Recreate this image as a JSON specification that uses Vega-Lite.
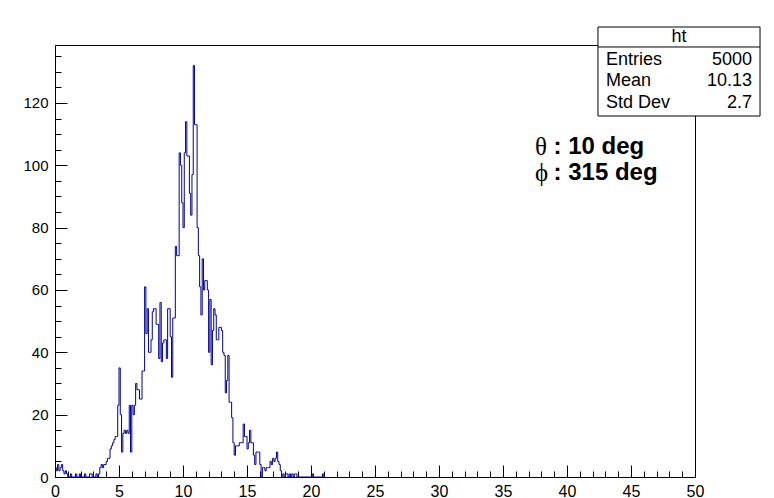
{
  "$schema": "https://vega.github.io/schema/vega-lite/v6.json",
  "width": 640,
  "height": 432,
  "autosize": {"type": "none"},
  "padding": {"left": 55, "top": 45, "right": 79, "bottom": 21},
  "background": "white",
  "config": {
    "view": {"stroke": "black", "strokeWidth": 1},
    "font": "Liberation Sans",
    "axis": {"grid": false, "domainColor": "black", "tickColor": "black", "labelColor": "black", "labelFont": "Liberation Sans", "labelFontSize": 15, "title": null}
  },
  "resolve": {"axis": {"x": "independent", "y": "independent"}},
  "datasets": {
    "h": [
      {"x":0.0,"n":3},{"x":0.1,"n":2},{"x":0.2,"n":4},{"x":0.3,"n":2},{"x":0.4,"n":3},{"x":0.5,"n":4},{"x":0.6,"n":2},{"x":0.7,"n":1},{"x":0.8,"n":2},{"x":0.9,"n":1},
      {"x":1.0,"n":0},{"x":1.1,"n":0},{"x":1.2,"n":1},{"x":1.3,"n":0},{"x":1.4,"n":0},{"x":1.5,"n":0},{"x":1.6,"n":1},{"x":1.7,"n":0},{"x":1.8,"n":0},{"x":1.9,"n":1},
      {"x":2.0,"n":0},{"x":2.1,"n":0},{"x":2.2,"n":0},{"x":2.3,"n":1},{"x":2.4,"n":0},{"x":2.5,"n":0},{"x":2.6,"n":0},{"x":2.7,"n":1},{"x":2.8,"n":1},{"x":2.9,"n":0},
      {"x":3.0,"n":0},{"x":3.1,"n":0},{"x":3.2,"n":1},{"x":3.3,"n":0},{"x":3.4,"n":1},{"x":3.5,"n":3},{"x":3.6,"n":4},{"x":3.7,"n":3},{"x":3.8,"n":4},{"x":3.9,"n":4},
      {"x":4.0,"n":5},{"x":4.1,"n":6},{"x":4.2,"n":6},{"x":4.3,"n":9},{"x":4.4,"n":10},{"x":4.5,"n":11},{"x":4.6,"n":12},{"x":4.7,"n":13},{"x":4.8,"n":13},{"x":4.9,"n":23},
      {"x":5.0,"n":35},{"x":5.1,"n":20},{"x":5.2,"n":8},{"x":5.3,"n":14},{"x":5.4,"n":15},{"x":5.5,"n":14},{"x":5.6,"n":15},{"x":5.7,"n":14},{"x":5.8,"n":23},{"x":5.9,"n":8},
      {"x":6.0,"n":23},{"x":6.1,"n":20},{"x":6.2,"n":23},{"x":6.3,"n":30},{"x":6.4,"n":28},{"x":6.5,"n":28},{"x":6.6,"n":25},{"x":6.7,"n":25},{"x":6.8,"n":34},{"x":6.9,"n":34},
      {"x":7.0,"n":61},{"x":7.1,"n":46},{"x":7.2,"n":54},{"x":7.3,"n":40},{"x":7.4,"n":40},{"x":7.5,"n":44},{"x":7.6,"n":53},{"x":7.7,"n":54},{"x":7.8,"n":54},{"x":7.9,"n":49},
      {"x":8.0,"n":49},{"x":8.1,"n":38},{"x":8.2,"n":56},{"x":8.3,"n":37},{"x":8.4,"n":43},{"x":8.5,"n":44},{"x":8.6,"n":44},{"x":8.7,"n":38},{"x":8.8,"n":54},{"x":8.9,"n":54},
      {"x":9.0,"n":45},{"x":9.1,"n":32},{"x":9.2,"n":51},{"x":9.3,"n":51},{"x":9.4,"n":74},{"x":9.5,"n":71},{"x":9.6,"n":71},{"x":9.7,"n":104},{"x":9.8,"n":100},{"x":9.9,"n":88},
      {"x":10.0,"n":80},{"x":10.1,"n":104},{"x":10.2,"n":114},{"x":10.3,"n":103},{"x":10.4,"n":103},{"x":10.5,"n":91},{"x":10.6,"n":84},{"x":10.7,"n":97},{"x":10.8,"n":132},{"x":10.9,"n":113},
      {"x":11.0,"n":113},{"x":11.1,"n":80},{"x":11.2,"n":71},{"x":11.3,"n":61},{"x":11.4,"n":52},{"x":11.5,"n":70},{"x":11.6,"n":60},{"x":11.7,"n":63},{"x":11.8,"n":63},{"x":11.9,"n":60},
      {"x":12.0,"n":40},{"x":12.1,"n":57},{"x":12.2,"n":36},{"x":12.3,"n":47},{"x":12.4,"n":54},{"x":12.5,"n":52},{"x":12.6,"n":44},{"x":12.7,"n":44},{"x":12.8,"n":48},{"x":12.9,"n":48},
      {"x":13.0,"n":47},{"x":13.1,"n":40},{"x":13.2,"n":39},{"x":13.3,"n":27},{"x":13.4,"n":31},{"x":13.5,"n":39},{"x":13.6,"n":24},{"x":13.7,"n":24},{"x":13.8,"n":19},{"x":13.9,"n":11},
      {"x":14.0,"n":7},{"x":14.1,"n":10},{"x":14.2,"n":10},{"x":14.3,"n":10},{"x":14.4,"n":11},{"x":14.5,"n":11},{"x":14.6,"n":11},{"x":14.7,"n":17},{"x":14.8,"n":13},{"x":14.9,"n":13},
      {"x":15.0,"n":9},{"x":15.1,"n":11},{"x":15.2,"n":15},{"x":15.3,"n":11},{"x":15.4,"n":11},{"x":15.5,"n":7},{"x":15.6,"n":4},{"x":15.7,"n":8},{"x":15.8,"n":8},{"x":15.9,"n":8},
      {"x":16.0,"n":4},{"x":16.1,"n":0},{"x":16.2,"n":3},{"x":16.3,"n":3},{"x":16.4,"n":2},{"x":16.5,"n":3},{"x":16.6,"n":3},{"x":16.7,"n":3},{"x":16.8,"n":5},{"x":16.9,"n":4},
      {"x":17.0,"n":6},{"x":17.1,"n":5},{"x":17.2,"n":6},{"x":17.3,"n":8},{"x":17.4,"n":5},{"x":17.5,"n":4},{"x":17.6,"n":2},{"x":17.7,"n":0},{"x":17.8,"n":1},{"x":17.9,"n":0},
      {"x":18.0,"n":1},{"x":18.1,"n":1},{"x":18.2,"n":0},{"x":18.3,"n":1},{"x":18.4,"n":0},{"x":18.5,"n":1},{"x":18.6,"n":0},{"x":18.7,"n":1},{"x":18.8,"n":1},{"x":18.9,"n":0},
      {"x":19.0,"n":0},{"x":19.1,"n":0},{"x":19.2,"n":0},{"x":19.3,"n":0},{"x":19.4,"n":0},{"x":19.5,"n":0},{"x":19.6,"n":0},{"x":19.7,"n":0},{"x":19.8,"n":0},{"x":19.9,"n":0},
      {"x":20.0,"n":0},{"x":20.1,"n":1},{"x":20.2,"n":0},{"x":20.3,"n":0},{"x":20.4,"n":0},{"x":20.5,"n":0},{"x":20.6,"n":0},{"x":20.7,"n":0},{"x":20.8,"n":0},{"x":20.9,"n":1},
      {"x":21.0,"n":0}
    ]
  },
  "layer": [
    {
      "data": {"name": "h"},
      "mark": {"type": "line", "interpolate": "step-after", "color": "#000099", "strokeWidth": 1, "clip": true},
      "encoding": {
        "x": {
          "field": "x", "type": "quantitative",
          "scale": {"domain": [0, 50], "nice": false, "zero": false},
          "axis": {
            "orient": "bottom",
            "values": [0,1,2,3,4,5,6,7,8,9,10,11,12,13,14,15,16,17,18,19,20,21,22,23,24,25,26,27,28,29,30,31,32,33,34,35,36,37,38,39,40,41,42,43,44,45,46,47,48,49,50],
            "tickSize": {"condition": {"test": "datum.value % 5 === 0", "value": -12}, "value": -6},
            "labelExpr": "datum.value % 5 === 0 ? datum.label : ''",
            "labelPadding": 18,
            "labelFontSize": 16,
            "labelOverlap": false,
            "labelFlush": false
          }
        },
        "y": {
          "field": "n", "type": "quantitative",
          "scale": {"domain": [0, 138.6], "nice": false},
          "axis": {
            "orient": "left",
            "values": [0,5,10,15,20,25,30,35,40,45,50,55,60,65,70,75,80,85,90,95,100,105,110,115,120,125,130,135],
            "tickSize": {"condition": {"test": "datum.value % 20 === 0", "value": -12}, "value": -6},
            "labelExpr": "datum.value % 20 === 0 ? datum.label : ''",
            "labelPadding": 19,
            "labelOverlap": false
          }
        }
      }
    },
    {
      "data": {"values": [{}]},
      "mark": {"type": "rect", "fill": "white", "stroke": "black", "strokeWidth": 1, "clip": false},
      "encoding": {
        "x": {"datum": 42.42, "type": "quantitative", "axis": null},
        "x2": {"datum": 55.08},
        "y": {"datum": 144.37, "type": "quantitative", "axis": null},
        "y2": {"datum": 115.82}
      }
    },
    {
      "data": {"values": [{}]},
      "mark": {"type": "rule", "stroke": "black", "strokeWidth": 1, "clip": false},
      "encoding": {
        "x": {"datum": 42.42, "type": "quantitative", "axis": null},
        "x2": {"datum": 55.08},
        "y": {"datum": 137.96, "type": "quantitative", "axis": null}
      }
    },
    {
      "data": {"values": [{}]},
      "mark": {"type": "text", "text": "ht", "align": "center", "baseline": "middle", "fontSize": 18, "font": "Liberation Sans", "color": "black"},
      "encoding": {"x": {"datum": 48.75, "type": "quantitative", "axis": null}, "y": {"datum": 141.17, "type": "quantitative", "axis": null}}
    },
    {
      "data": {"values": [{}]},
      "mark": {"type": "text", "text": "Entries", "align": "left", "baseline": "middle", "fontSize": 18, "font": "Liberation Sans", "color": "black"},
      "encoding": {"x": {"datum": 43.05, "type": "quantitative", "axis": null}, "y": {"datum": 133.79, "type": "quantitative", "axis": null}}
    },
    {
      "data": {"values": [{}]},
      "mark": {"type": "text", "text": "5000", "align": "right", "baseline": "middle", "fontSize": 18, "font": "Liberation Sans", "color": "black"},
      "encoding": {"x": {"datum": 54.45, "type": "quantitative", "axis": null}, "y": {"datum": 133.79, "type": "quantitative", "axis": null}}
    },
    {
      "data": {"values": [{}]},
      "mark": {"type": "text", "text": "Mean", "align": "left", "baseline": "middle", "fontSize": 18, "font": "Liberation Sans", "color": "black"},
      "encoding": {"x": {"datum": 43.05, "type": "quantitative", "axis": null}, "y": {"datum": 127.05, "type": "quantitative", "axis": null}}
    },
    {
      "data": {"values": [{}]},
      "mark": {"type": "text", "text": "10.13", "align": "right", "baseline": "middle", "fontSize": 18, "font": "Liberation Sans", "color": "black"},
      "encoding": {"x": {"datum": 54.45, "type": "quantitative", "axis": null}, "y": {"datum": 127.05, "type": "quantitative", "axis": null}}
    },
    {
      "data": {"values": [{}]},
      "mark": {"type": "text", "text": "Std Dev", "align": "left", "baseline": "middle", "fontSize": 18, "font": "Liberation Sans", "color": "black"},
      "encoding": {"x": {"datum": 43.05, "type": "quantitative", "axis": null}, "y": {"datum": 119.99, "type": "quantitative", "axis": null}}
    },
    {
      "data": {"values": [{}]},
      "mark": {"type": "text", "text": "2.7", "align": "right", "baseline": "middle", "fontSize": 18, "font": "Liberation Sans", "color": "black"},
      "encoding": {"x": {"datum": 54.45, "type": "quantitative", "axis": null}, "y": {"datum": 119.99, "type": "quantitative", "axis": null}}
    },
    {
      "data": {"values": [{}]},
      "mark": {"type": "text", "text": "θ", "align": "left", "baseline": "middle", "fontSize": 25, "font": "Liberation Serif", "color": "black"},
      "encoding": {"x": {"datum": 37.5, "type": "quantitative", "axis": null}, "y": {"datum": 105.87, "type": "quantitative", "axis": null}}
    },
    {
      "data": {"values": [{}]},
      "mark": {"type": "text", "text": ": 10 deg", "align": "left", "baseline": "middle", "fontSize": 24, "fontWeight": "bold", "font": "Liberation Sans", "color": "black"},
      "encoding": {"x": {"datum": 38.95, "type": "quantitative", "axis": null}, "y": {"datum": 105.87, "type": "quantitative", "axis": null}}
    },
    {
      "data": {"values": [{}]},
      "mark": {"type": "text", "text": "ϕ", "align": "left", "baseline": "middle", "fontSize": 25, "font": "Liberation Serif", "color": "black"},
      "encoding": {"x": {"datum": 37.5, "type": "quantitative", "axis": null}, "y": {"datum": 97.53, "type": "quantitative", "axis": null}}
    },
    {
      "data": {"values": [{}]},
      "mark": {"type": "text", "text": ": 315 deg", "align": "left", "baseline": "middle", "fontSize": 24, "fontWeight": "bold", "font": "Liberation Sans", "color": "black"},
      "encoding": {"x": {"datum": 38.95, "type": "quantitative", "axis": null}, "y": {"datum": 97.53, "type": "quantitative", "axis": null}}
    }
  ]
}
